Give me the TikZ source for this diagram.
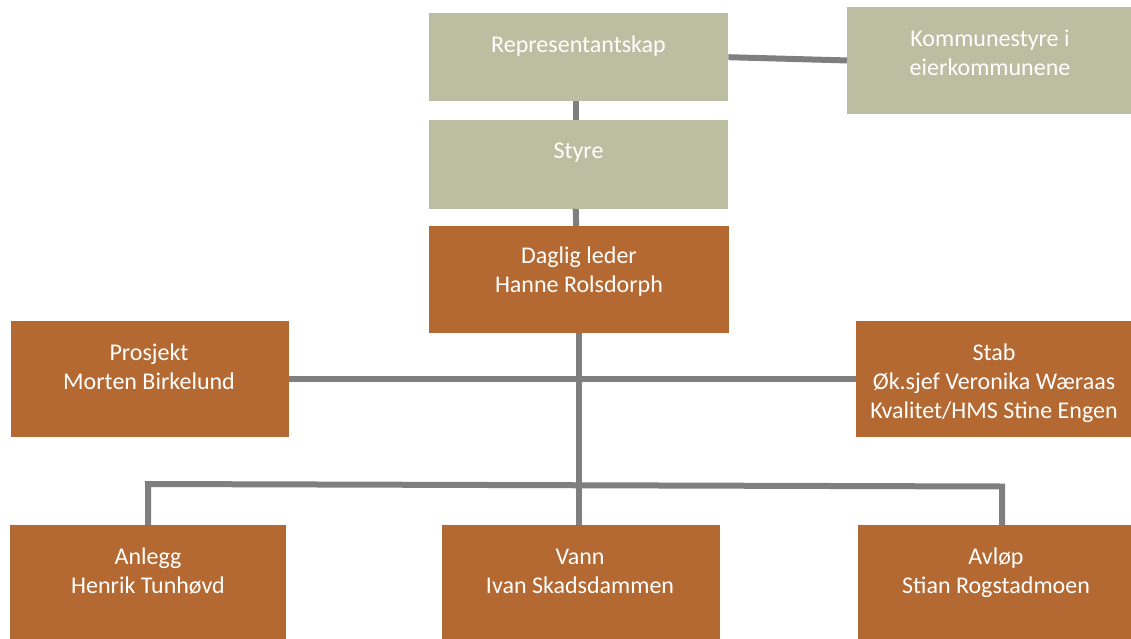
\documentclass[tikz,border=0pt]{standalone}
\usepackage{fontspec}
\setmainfont{Carlito}
\definecolor{boxgreen}{HTML}{BBBEA1}
\definecolor{boxbrown}{HTML}{B46932}
\definecolor{linegray}{HTML}{7F7F7F}
\begin{document}
\begin{tikzpicture}[x=1pt,y=-1pt,
  gbox/.style={draw=none,fill=boxgreen,rectangle,inner sep=0,anchor=north west},
  bbox/.style={draw=none,fill=boxbrown,rectangle,inner sep=0,anchor=north west},
  txt/.style={text=white,align=center,inner sep=0,font=\fontsize{24}{29}\selectfont},
  conn/.style={draw=linegray,line width=6,line join=miter}]
\useasboundingbox (0,0) rectangle (1131,639);
% boxes
\node[gbox,minimum width=299,minimum height=88] (rep) at (429,13) {};
\node[gbox,minimum width=284,minimum height=106.5] (kom) at (847,7) {};
\node[gbox,minimum width=299,minimum height=88.5] (sty) at (429,120) {};
\node[bbox,minimum width=300,minimum height=107] (dag) at (429,226) {};
\node[bbox,minimum width=278,minimum height=115.5] (pro) at (11,321) {};
\node[bbox,minimum width=275,minimum height=115.5] (stab) at (856,321) {};
\node[bbox,minimum width=276,minimum height=114] (anl) at (10,525) {};
\node[bbox,minimum width=278,minimum height=114] (van) at (442,525) {};
\node[bbox,minimum width=273,minimum height=114] (avl) at (858,525) {};
% connectors
\draw[conn] (rep.east) -- (kom.west);
\draw[conn] ([xshift=-3]rep.south) -- ([xshift=-3]sty.north);
\draw[conn] ([xshift=-3]sty.south) -- ([xshift=-3]dag.north);
\draw[conn] (dag.south) -- (dag.south |- van.north);
\draw[conn] (pro.east) -- (stab.west);
\coordinate (hl) at (148,484);
\coordinate (hr) at (1002,486.5);
\draw[conn] (anl.north) -- (hl) -- (hr) -- (hr |- avl.north);
% texts
\node[txt] (t-rep) at (578.5,46) {Representantskap};
\node[txt] (t-kom) at (990,52.5) {Kommunestyre i\\eierkommunene};
\node[txt] (t-sty) at (578.5,153) {Styre};
\node[txt] (t-dag) at (579,272) {Daglig leder\\Hanne Rolsdorph};
\node[txt] (t-pro) at (149,367) {Prosjekt\\Morten Birkelund};
\node[txt] (t-stab) at (994,383) {Stab\\Øk.sjef Veronika Wæraas\\Kvalitet/HMS Stine Engen};
\node[txt] (t-anl) at (148,571) {Anlegg\\Henrik Tunhøvd};
\node[txt] (t-van) at (580,571) {Vann\\Ivan Skadsdammen};
\node[txt] (t-avl) at (996,573) {Avløp\\Stian Rogstadmoen};
\end{tikzpicture}
\end{document}
